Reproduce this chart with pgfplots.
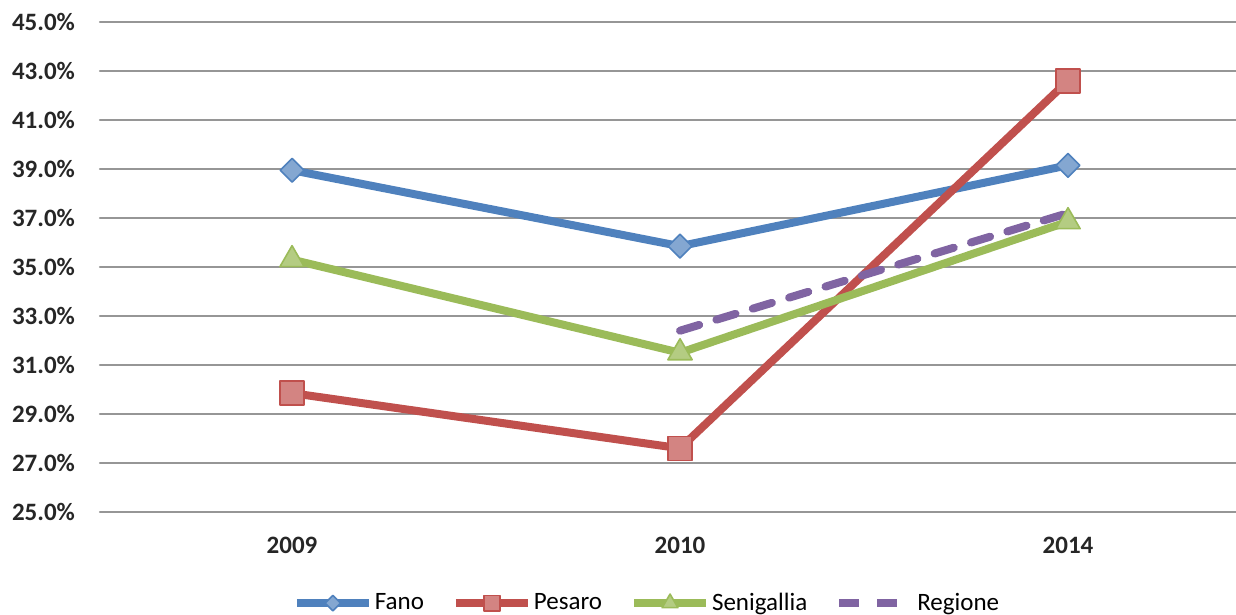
\documentclass[border=0pt]{standalone}
\usepackage{pgfplots}
\pgfplotsset{compat=1.18}
\usepackage{fontspec}
\setmainfont{Carlito}
\usetikzlibrary{calc}

\definecolor{cfano}{HTML}{4F81BD}
\definecolor{cpesaro}{HTML}{C0504D}
\definecolor{cseni}{HTML}{9BBB59}
\definecolor{cregione}{HTML}{8064A2}
\definecolor{cgrid}{RGB}{150,150,150}

\begin{document}
\begin{tikzpicture}
\begin{axis}[
    scale only axis,
    width=568pt, height=245pt,
    xmin=-0.495, xmax=2.433,
    ymin=25, ymax=45,
    xtick={0,1,2},
    xticklabels={2009,2010,2014},
    ytick={25,27,...,45},
    yticklabels={25.0\%,27.0\%,29.0\%,31.0\%,33.0\%,35.0\%,37.0\%,39.0\%,41.0\%,43.0\%,45.0\%},
    axis line style={draw=none},
    tick style={draw=none},
    ymajorgrids=true,
    major grid style={cgrid, line width=1.1pt},
    tick label style={font=\fontsize{12.5}{14}\selectfont\bfseries, text=black!85},
    yticklabel style={xshift=-9pt},
    xticklabel style={yshift=-9pt},
    clip=false,
    line join=round, line cap=round,
    legend columns=4,
    legend style={
        at={(0.4815,-0.186)}, anchor=center,
        draw=none, fill=none,
        font=\fontsize{12.5}{14}\selectfont,
        /tikz/every even column/.append style={column sep=13pt},
        nodes={inner sep=1pt},
    },
    legend image code/.code={
        \draw[mark repeat=2,mark phase=2,every mark/.append style={scale=0.65}]
            plot coordinates {(0pt,0pt)(18pt,0pt)(36pt,0pt)};
    },
]
\addplot[cfano, line width=4pt, mark=square*, mark size=4.2pt,
    mark options={rotate=45, solid, fill=cfano!70!white, draw=cfano, line width=0.8pt}]
    coordinates {(0,38.95) (1,35.85) (2,39.15)};
\addlegendentry{Fano}
\addplot[cpesaro, line width=4pt, mark=square*, mark size=6pt,
    mark options={solid, fill=cpesaro!70!white, draw=cpesaro, line width=0.8pt}]
    coordinates {(0,29.85) (1,27.6) (2,42.6)};
\addlegendentry{Pesaro}
\addplot[cseni, line width=4pt, mark=triangle*, mark size=7pt,
    mark options={solid, fill=cseni!75!white, draw=cseni, line width=0.8pt}]
    coordinates {(0,35.3) (1,31.5) (2,36.85)};
\addlegendentry{Senigallia}
\addplot[cregione, line width=4pt, dash pattern=on 10pt off 9pt]
    coordinates {(1,32.4) (2,37.2)};
\addlegendentry{Regione}
\coordinate (bl) at (rel axis cs:0,0);
\coordinate (tr) at (rel axis cs:1,1);
\end{axis}
\pgfresetboundingbox
\useasboundingbox ($(bl)+(-50pt,-51.5pt)$) rectangle ($(tr)+(0pt,11pt)$);
\end{tikzpicture}
\end{document}
